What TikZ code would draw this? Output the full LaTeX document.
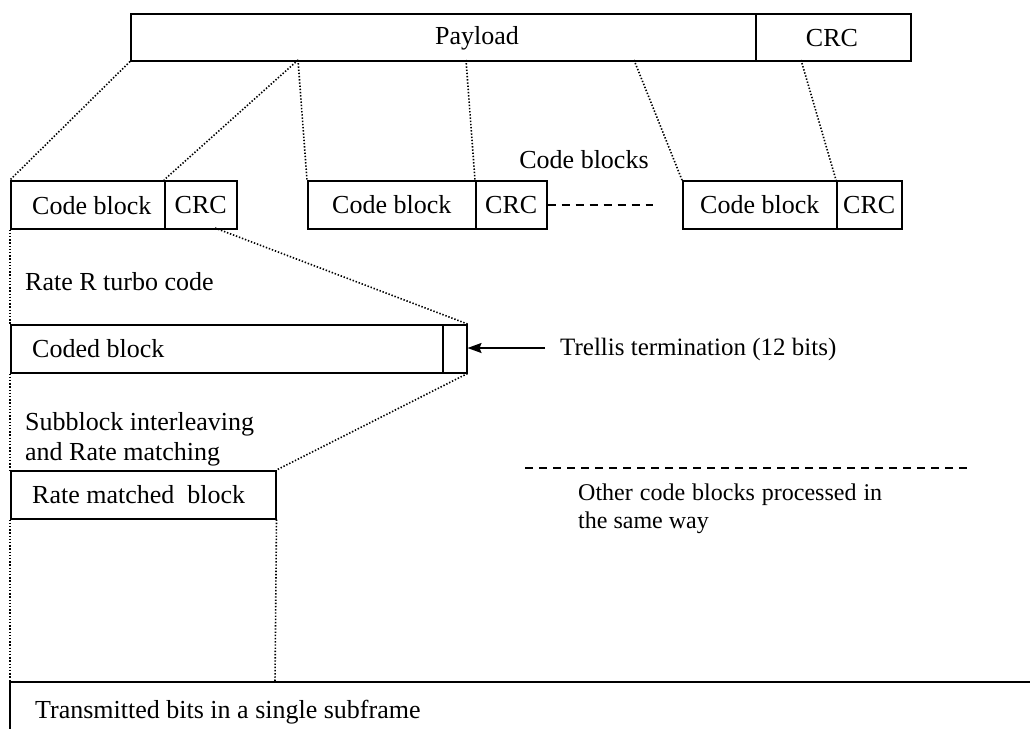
\documentclass[tikz,border=0pt]{standalone}
\usepackage{fontspec}
\setmainfont{Liberation Serif}
\usetikzlibrary{arrows.meta}
\begin{document}
\begin{tikzpicture}[x=1pt,y=-1pt,
  every node/.style={font=\fontsize{26}{30}\selectfont, inner sep=0pt},
  blk/.style={draw, line width=1.5pt, anchor=north west},
  dot/.style={line width=1.6pt, dash pattern=on 1.4pt off 1.8pt},
  dsh/.style={line width=1.3pt, dash pattern=on 8pt off 6pt},
  lbl/.style={anchor=west, align=left}]
\useasboundingbox (0,0) rectangle (1030,729);
% top payload
\node[blk, minimum width=625pt, minimum height=47pt] (pay) at (130,13) {};
\node (payt) at (477,38) {Payload};
\node[blk, minimum width=155pt, minimum height=47pt] (crc0) at (755,13) {};
\node (crc0t) at (832,38) {CRC};
% code blocks
\node[blk, minimum width=154pt, minimum height=48pt] (cb1) at (10,180) {};
\node[anchor=west] (cb1t) at (32,206) {Code block};
\node[blk, minimum width=72pt, minimum height=48pt] (crc1) at (164,180) {CRC};
\node[blk, minimum width=168pt, minimum height=48pt] (cb2) at (307,180) {Code block};
\node[blk, minimum width=71pt, minimum height=48pt] (crc2) at (475,180) {CRC};
\node[blk, minimum width=154pt, minimum height=48pt] (cb3) at (682,180) {Code block};
\node[blk, minimum width=65pt, minimum height=48pt] (crc3) at (836,180) {CRC};
\node (cbl) at (584,160) {Code blocks};
\coordinate (d1) at (653,205);
\draw[dsh] (crc2.east |- d1) -- (d1);
% coded block
\node[blk, minimum width=432pt, minimum height=48pt] (coded) at (10,324) {};
\node[anchor=west] (codedt) at (32,349) {Coded block};
\node[blk, minimum width=24pt, minimum height=48pt] (term) at (442,324) {};
\coordinate (arrt) at (545,348);
\draw[line width=1.6pt, -{Stealth[length=14pt,width=10pt,inset=2pt]}] (arrt) -- (term.east |- arrt);
\node[lbl, font=\fontsize{25}{30}\selectfont] (trl) at (560,349) {Trellis termination (12 bits)};
\node[lbl] (rate) at (25,282) {Rate R turbo code};
\node[lbl] (sub) at (25,439) {Subblock interleaving\\and Rate matching};
% rate matched block
\node[blk, minimum width=265pt, minimum height=48pt] (rm) at (10,470) {};
\node[anchor=west] (rmt) at (32,495) {Rate matched\ \ block};
\coordinate (o1) at (525,468);
\coordinate (o2) at (972,468);
\draw[dsh] (o1) -- (o2);
\node[anchor=north west, text width=304pt, align=justify, font=\fontsize{24}{28}\selectfont] (oth) at (578,484) {Other code blocks processed in the same way};
% bottom
\coordinate (b1) at (10,682);
\coordinate (b2) at (1030,682);
\coordinate (b3) at (10,729);
\coordinate (b4) at (275,682);
\draw[line width=1.5pt] (b2) -- (b1) -- (b3);
\node[anchor=west] (tx) at (35,712) {Transmitted bits in a single subframe};
% dotted connectors
\coordinate (p1) at (298,60);
\coordinate (p2) at (466,60);
\coordinate (p3) at (634,60);
\coordinate (p4) at (801,60);
\coordinate (c1) at (215,228);
\draw[dot] (pay.south west) -- (cb1.north west);
\draw[dot] (p1) -- (crc1.north west);
\draw[dot] (p1) -- (cb2.north west);
\draw[dot] (p2) -- (crc2.north west);
\draw[dot] (p3) -- (cb3.north west);
\draw[dot] (p4) -- (crc3.north west);
\draw[dot] (c1) -- (term.north east);
\draw[dot] (cb1.south west) -- (coded.north west);
\draw[dot] (coded.south west) -- (rm.north west);
\draw[dot] (term.south east) -- (rm.north east);
\draw[dot] (rm.south west) -- (b1);
\draw[dot] (rm.south east) -- (b4);
\end{tikzpicture}
\end{document}
